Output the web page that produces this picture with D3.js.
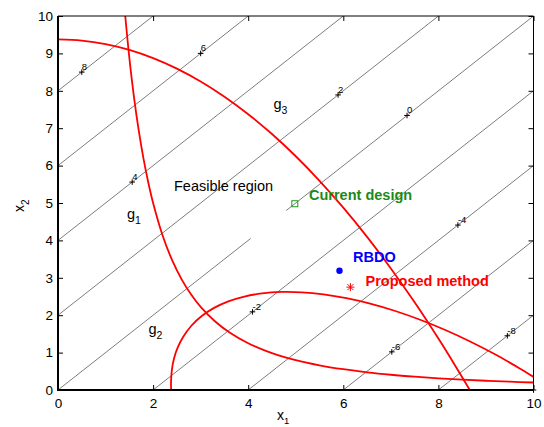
<!DOCTYPE html>
<html>
<head>
<meta charset="utf-8">
<script src="https://cdn.jsdelivr.net/npm/d3@7"></script>
<style>
  html, body { margin: 0; padding: 0; background: #fff; }
  svg { display: block; }
  text { font-family: "Liberation Sans", Arial, Helvetica, sans-serif; }
</style>
</head>
<body>
<svg id="chart" width="544" height="427"></svg>
<script>
// ---------- data ----------
const xTicks = [0, 2, 4, 6, 8, 10];
const yTicks = [0, 1, 2, 3, 4, 5, 6, 7, 8, 9, 10];

// objective contour levels (lines x2 - x1 = level) and label positions (x1 of label)
const contourLevels = [8, 6, 4, 2, 0, -2, -4, -6, -8];
const contourLabelX = [0.5, 3.0, 1.56, 5.89, 7.34, 4.09, 8.41, 7.02, 9.45];
const cornerMarker = [10, 0];

// constraint g1 boundary points [x1, x2]
const g1Curve = [
  [1.414, 10.0], [1.5, 8.889], [1.6, 7.813], [1.7, 6.920], [1.8, 6.173], [1.9, 5.540],
  [2.0, 5.0], [2.2, 4.132], [2.4, 3.472], [2.6, 2.959], [2.8, 2.551], [3.0, 2.222],
  [3.3, 1.837], [3.6, 1.543], [4.0, 1.25], [4.5, 0.988], [5.0, 0.8], [5.5, 0.661],
  [6.0, 0.556], [6.5, 0.473], [7.0, 0.408], [7.5, 0.356], [8.0, 0.313], [8.5, 0.277],
  [9.0, 0.247], [9.5, 0.222], [10.0, 0.2]
];
// constraint g2 boundary points
const g2Curve = [
  [2.380, 0.0], [2.376, 0.171], [2.396, 0.553], [2.444, 0.863], [2.523, 1.152],
  [2.631, 1.419], [2.805, 1.718], [3.023, 1.977], [3.282, 2.195], [3.582, 2.370],
  [3.918, 2.499], [4.290, 2.584], [4.693, 2.622], [5.126, 2.613], [5.584, 2.558],
  [6.065, 2.456], [6.564, 2.310], [7.077, 2.119], [7.602, 1.885], [8.133, 1.610],
  [8.667, 1.297], [9.200, 0.947], [9.728, 0.563], [10.0, 0.351]
];
// constraint g3 boundary points
const g3Curve = [
  [0, 9.375], [0.5, 9.344], [1, 9.25], [1.5, 9.094], [2, 8.875], [2.5, 8.594],
  [3, 8.25], [3.5, 7.844], [4, 7.375], [4.5, 6.844], [5, 6.25], [5.5, 5.594],
  [6, 4.875], [6.5, 4.094], [7, 3.25], [7.5, 2.344], [8, 1.375], [8.3, 0.763], [8.66, 0.0]
];

const currentDesign = [4.98, 4.98];
const rbdoPoint = [5.92, 3.19];
const proposedPoint = [6.15, 2.75];

// ---------- layout ----------
(function () {
const svg = d3.select("#chart");
const pL = 58, pR = 533.5, pT = 16, pB = 390;
const x = d3.scaleLinear().domain([0, 10]).range([pL, pR]);
const y = d3.scaleLinear().domain([0, 10]).range([pB, pT]);

svg.append("rect").attr("width", 544).attr("height", 427).attr("fill", "#fff");

svg.append("defs").append("clipPath").attr("id", "clip")
  .append("rect").attr("x", pL).attr("y", pT)
  .attr("width", pR - pL).attr("height", pB - pT);

const plot = svg.append("g").attr("clip-path", "url(#clip)");

// contour lines
contourLevels.forEach(c => {
  const x0 = Math.max(0, -c), y0 = Math.max(0, c);
  const x1 = Math.min(10, 10 - c), y1 = Math.min(10, 10 + c);
  plot.append("line")
    .attr("x1", x(x0)).attr("y1", y(y0))
    .attr("x2", x(x1)).attr("y2", y(y1))
    .attr("stroke", "#7d7d7d").attr("stroke-width", 1);
});
// white gap in the level-0 line (as in the reference)
plot.append("line")
  .attr("x1", x(4.05)).attr("y1", y(4.05)).attr("x2", x(4.8)).attr("y2", y(4.8))
  .attr("stroke", "#fff").attr("stroke-width", 3);

// red constraint curves
const line = d3.line().x(d => x(d[0])).y(d => y(d[1])).curve(d3.curveCatmullRom);
[g1Curve, g2Curve, g3Curve].forEach(cv => {
  plot.append("path").attr("d", line(cv))
    .attr("fill", "none").attr("stroke", "#ff0000").attr("stroke-width", 1.8);
});

// contour labels
function plus(g, px, py, s) {
  g.append("path")
    .attr("d", `M${px - s},${py}H${px + s}M${px},${py - s}V${py + s}`)
    .attr("stroke", "#000").attr("stroke-width", 1);
}
contourLevels.forEach((c, i) => {
  const lx = contourLabelX[i], ly = lx + c;
  plus(svg, x(lx), y(ly), 2.8);
  svg.append("text").attr("x", x(lx)).attr("y", y(ly) - 2.2)
    .attr("font-size", "9.5px").attr("fill", "#000").text(c);
});
plus(svg, x(cornerMarker[0]), y(cornerMarker[1]), 2.8);

// axes box
svg.append("path")
  .attr("d", `M${pL},${pT}H${pR}V${pB}`)
  .attr("fill", "none").attr("stroke", "#000").attr("stroke-width", 1);
svg.append("path")
  .attr("d", `M${pL},${pT}V${pB}H${pR}`)
  .attr("fill", "none").attr("stroke", "#000").attr("stroke-width", 2);

// axes with inward ticks
const ax = svg.append("g").attr("transform", `translate(0,${pB})`)
  .call(d3.axisBottom(x).tickValues(xTicks).tickSize(-5).tickPadding(8).tickFormat(d3.format("d")));
const axTop = svg.append("g").attr("transform", `translate(0,${pT})`)
  .call(d3.axisTop(x).tickValues(xTicks).tickSize(-5).tickFormat(""));
const ay = svg.append("g").attr("transform", `translate(${pL},0)`)
  .call(d3.axisLeft(y).tickValues(yTicks).tickSize(-5).tickPadding(5).tickFormat(d3.format("d")));
const ayR = svg.append("g").attr("transform", `translate(${pR},0)`)
  .call(d3.axisRight(y).tickValues(yTicks).tickSize(-5).tickFormat(""));
[ax, axTop, ay, ayR].forEach(g => {
  g.select(".domain").remove();
  g.selectAll(".tick line").attr("stroke", "#000").attr("stroke-width", 1);
  g.selectAll(".tick text").attr("font-size", "13.5px").attr("fill", "#000")
    .attr("font-family", '"Liberation Sans", Arial, sans-serif');
});

// axis labels
const xl = svg.append("text").attr("x", 277).attr("y", 420).attr("font-size", "14px");
xl.append("tspan").text("x");
xl.append("tspan").attr("font-size", "9.5px").attr("dy", 4).text("1");
const yl = svg.append("text").attr("transform", "translate(23.5,212) rotate(-90)").attr("font-size", "14px");
yl.append("tspan").text("x");
yl.append("tspan").attr("font-size", "10px").attr("dy", 5).text("2");

// region labels
svg.append("text").attr("x", 174).attr("y", 191).attr("font-size", "14.5px").text("Feasible region");
function gLabel(px, py, sub) {
  const t = svg.append("text").attr("x", px).attr("y", py).attr("font-size", "14.5px");
  t.append("tspan").text("g");
  t.append("tspan").attr("font-size", "10.5px").attr("dy", 5).text(sub);
}
gLabel(127, 219, "1");
gLabel(148.5, 334, "2");
gLabel(273.5, 109, "3");

// design points
svg.append("rect")
  .attr("x", x(currentDesign[0]) - 3).attr("y", y(currentDesign[1]) - 3)
  .attr("width", 6).attr("height", 6)
  .attr("fill", "none").attr("stroke", "#1a9a1a").attr("stroke-width", 1);
svg.append("circle").attr("cx", x(rbdoPoint[0])).attr("cy", y(rbdoPoint[1])).attr("r", 3.2)
  .attr("fill", "#0000ff");
{
  const px = x(proposedPoint[0]), py = y(proposedPoint[1]), s = 4, d = 3;
  svg.append("path")
    .attr("d", `M${px - s},${py}H${px + s}M${px},${py - s}V${py + s}M${px - d},${py - d}L${px + d},${py + d}M${px - d},${py + d}L${px + d},${py - d}`)
    .attr("stroke", "#ff0000").attr("stroke-width", 1);
}

svg.append("text").attr("x", 309).attr("y", 199.5).attr("font-size", "14.5px")
  .attr("font-weight", "bold").attr("fill", "#1a8a1a").text("Current design");
svg.append("text").attr("x", 353).attr("y", 261.5).attr("font-size", "14.5px")
  .attr("font-weight", "bold").attr("fill", "#0000ff").text("RBDO");
svg.append("text").attr("x", 365.5).attr("y", 286).attr("font-size", "14.5px")
  .attr("font-weight", "bold").attr("fill", "#ff0000").text("Proposed method");
})();
</script>
</body>
</html>
